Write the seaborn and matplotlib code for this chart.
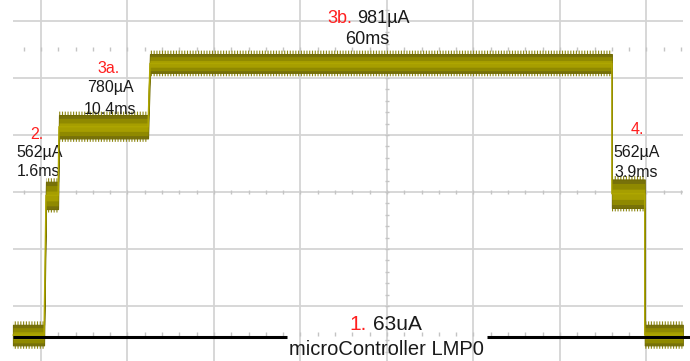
import matplotlib
matplotlib.use("Agg")
import matplotlib.pyplot as plt
import seaborn as sns
import pandas as pd

# trace segments, in scope divisions (x: time div, y: current div, 0 = centre line)
seg_start = [-0.324, 0.058, 0.208, 1.26, 6.60, 6.98]
seg_end = [0.035, 0.197, 1.237, 6.60, 6.98, 7.42]
seg_hi = [-2.33, 0.18, 1.35, 2.42, 0.22, -2.33]
seg_lo = [-2.69, -0.30, 0.94, 2.09, -0.28, -2.69]

# labels: (step number, current, duration)
step_names = ["1.", "2.", "3a.", "3b.", "4."]
step_current = ["63uA", "562µA", "780µA", "981µA", "562µA"]
step_time = ["", "1.6ms", "10.4ms", "60ms", "3.9ms"]
mode_label = "microController LMP0"

sns.set_style("white")
plt.rcParams["font.family"] = ["Liberation Sans", "DejaVu Sans"]
plt.rcParams["hatch.linewidth"] = 0.8

fig = plt.figure(figsize=(6.9, 3.61), dpi=100)
ax = fig.add_axes([0, 0, 1, 1])
ax.set_xlim(-0.474, 7.503)
ax.set_ylim(-2.965, 3.368)
ax.axis("off")

grid_c = "#d4d4d4"
for gx in range(8):
    ax.axvline(gx, color=grid_c, lw=1.3, zorder=0)
for gy in range(-2, 4):
    ax.hlines(gy, -0.324, 7.42, color=grid_c, lw=1.3, zorder=0)

# minor ticks on centre lines and the dotted rows
minor_x = [i * 0.2 for i in range(-1, 38)]
minor_y = [i * 0.2 for i in range(-14, 17)]
for row in [0, 2.5, -2.5]:
    ax.plot(minor_x, [row] * len(minor_x), ls="none", marker="|", ms=3,
            color="#c4c4c4", zorder=0)
ax.plot([4] * len(minor_y), minor_y, ls="none", marker="_", ms=3,
        color="#c4c4c4", zorder=0)

# build outline of trace band
xs, hi, lo = [], [], []
for s, e, h, l in zip(seg_start, seg_end, seg_hi, seg_lo):
    xs += [s, e]
    hi += [h, h]
    lo += [l, l]
trace = pd.DataFrame({"t": xs, "hi": hi, "lo": lo})
trace["mid"] = (trace["hi"] + trace["lo"]) / 2
trace["span"] = trace["hi"] - trace["lo"]

# fuzzy noise fringe
ax.fill_between(trace["t"], trace["lo"] - 0.06, trace["hi"] + 0.06,
                facecolor="none", edgecolor="#8c8610", hatch="||||||", lw=0, zorder=1)
ax.fill_between(trace["t"], trace["lo"], trace["hi"], color="#77710a", lw=0.8,
                ec="#716b05", zorder=2)
ax.fill_between(trace["t"], trace["lo"] + trace["span"] * 0.12,
                trace["hi"] - trace["span"] * 0.14, color="#8f8900", lw=0, zorder=3)
ax.fill_between(trace["t"], trace["lo"] + trace["span"] * 0.3,
                trace["hi"] - trace["span"] * 0.34, color="#a69e00", lw=0, zorder=4)
sns.lineplot(data=trace, x="t", y="mid", ax=ax, color="#aea600", lw=1.0,
             sort=False, estimator=None, zorder=5)

# black baseline marker
ax.hlines(-2.544, -0.324, 2.844, color="black", lw=2.2, zorder=6)
ax.hlines(-2.544, 5.156, 7.503, color="black", lw=2.2, zorder=6)

red = "#ff1f1f"
dark = "#1a1a1a"
fs = 11.5

ax.text(-0.046, 1.0, step_names[1], color=red, fontsize=fs, ha="center", va="center")
ax.text(-0.012, 0.684, step_current[1], color=dark, fontsize=fs, ha="center", va="center")
ax.text(-0.029, 0.351, step_time[1], color=dark, fontsize=fs, ha="center", va="center")

ax.text(0.786, 2.175, step_names[2], color=red, fontsize=fs, ha="center", va="center")
ax.text(0.798, 1.825, step_current[2], color=dark, fontsize=fs, ha="center", va="center")
ax.text(0.798, 1.439, step_time[2], color=dark, fontsize=fs, ha="center", va="center")

ax.text(3.451, 3.05, step_names[3], color=red, fontsize=13, ha="center", va="center")
ax.text(3.653, 3.05, step_current[3], color=dark, fontsize=13, ha="left", va="center")
ax.text(3.769, 2.667, step_time[3], color=dark, fontsize=13, ha="center", va="center")

ax.text(6.89, 1.088, step_names[4], color=red, fontsize=fs, ha="center", va="center")
ax.text(6.89, 0.70, step_current[4], color=dark, fontsize=fs, ha="center", va="center")
ax.text(6.884, 0.35, step_time[4], color=dark, fontsize=fs, ha="center", va="center")

ax.text(3.67, -2.333, step_names[0], color=red, fontsize=15, ha="center", va="center")
ax.text(4.121, -2.333, step_current[0], color=dark, fontsize=15, ha="center", va="center")
ax.text(3.988, -2.77, mode_label, color=dark, fontsize=14.5, ha="center", va="center")

fig.savefig("out.png", dpi=100)
